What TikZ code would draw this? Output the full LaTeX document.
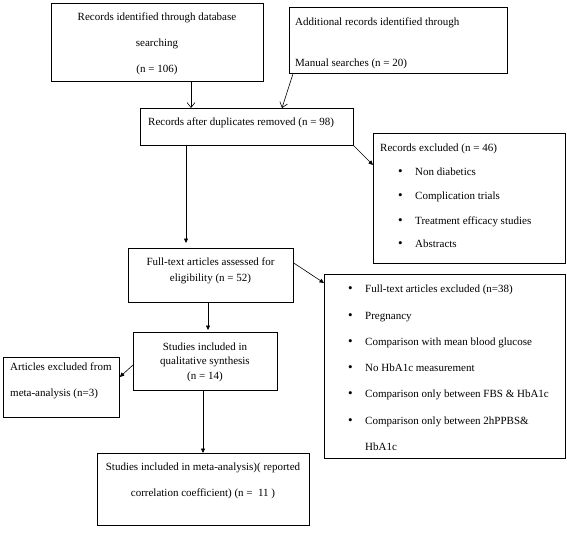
\documentclass[tikz,border=0pt]{standalone}
\usepackage{fontspec}
\setmainfont{Liberation Serif}
\usetikzlibrary{arrows.meta,calc}
\newcommand{\mybul}{\makebox[17pt][l]{\fontsize{13}{13}\selectfont •}}
\begin{document}
\begin{tikzpicture}[x=1pt,y=-1pt,
  box/.style={draw, line width=0.75pt, inner sep=0pt, anchor=north west},
  txt/.style={inner sep=0pt, font=\fontsize{11}{13}\selectfont, yshift=-1pt},
  bul/.style={txt, anchor=mid west},
  openarr/.style={draw, line width=0.6pt, -{Straight Barb[length=5pt,width=8pt]}},
  fillarr/.style={draw, line width=0.6pt, -{Triangle[length=4.5pt,width=4pt]}}]
\useasboundingbox (0,0) rectangle (567,535);
% boxes
\node[box, minimum width=212pt, minimum height=78pt] (b1) at (51,3) {};
\node[box, minimum width=218pt, minimum height=66pt] (b2) at (289,7) {};
\node[box, minimum width=213pt, minimum height=37pt] (b3) at (140,108) {};
\node[box, minimum width=192pt, minimum height=130pt] (b4) at (373,133) {};
\node[box, minimum width=165pt, minimum height=54pt] (b5) at (128,248) {};
\node[box, minimum width=241pt, minimum height=184pt] (b6) at (324,274) {};
\node[box, minimum width=144pt, minimum height=58pt] (b7) at (133,332) {};
\node[box, minimum width=116pt, minimum height=60pt] (b8) at (3,357) {};
\node[box, minimum width=212pt, minimum height=72pt] (b9) at (97,453) {};
% helper coordinates
\coordinate (x191) at (191,0);
\coordinate (x293) at (293,0);
\coordinate (x282) at (282,0);
\coordinate (x186) at (186,0);
\coordinate (x208) at (208,0);
\coordinate (x203) at (203,0);
\coordinate (y165) at (0,165);
\coordinate (y263) at (0,263);
\coordinate (y283) at (0,283);
\coordinate (y365) at (0,365);
\coordinate (y377) at (0,377);
% connectors
\draw[openarr] (b1.south -| x191) -- (b3.north -| x191);
\draw[openarr] (b2.south -| x293) -- (b3.north -| x282);
\draw[fillarr] (b3.south east) -- (b4.west |- y165);
\draw[fillarr] (b3.south -| x186) -- ($(b5.north -| x186)+(0,-5)$);
\draw[fillarr] (b5.east |- y263) -- (b6.west |- y283);
\draw[fillarr] (b5.south -| x208) -- ($(b7.north -| x208)+(0,-2)$);
\draw[fillarr] (b7.west |- y365) -- (b8.east |- y377);
\draw[fillarr] (b7.south -| x203) -- (b9.north -| x203);
% texts
\node[txt, anchor=mid] (t1a) at (157,17) {Records identified through database};
\node[txt, anchor=mid] (t1b) at (157,43) {searching};
\node[txt, anchor=mid] (t1c) at (157,69) {(n = 106)};
\node[txt, anchor=mid west] (t2a) at (295,22) {Additional records identified through};
\node[txt, anchor=mid west] (t2b) at (295,63) {Manual searches (n = 20)};
\node[txt, anchor=mid west] (t3) at (148,122) {Records after duplicates removed (n = 98)};
\node[txt, anchor=mid west] (t4) at (380,148) {Records excluded (n = 46)};
\node[bul] (t4a) at (398,172) {\mybul Non diabetics};
\node[bul] (t4b) at (398,196) {\mybul Complication trials};
\node[bul] (t4c) at (398,221) {\mybul Treatment efficacy studies};
\node[bul] (t4d) at (398,244) {\mybul Abstracts};
\node[txt, anchor=mid] (t5a) at (210.5,262) {Full-text articles assessed for};
\node[txt, anchor=mid] (t5b) at (210.5,278) {eligibility (n = 52)};
\node[bul] (t6a) at (348,289) {\mybul Full-text articles excluded (n=38)};
\node[bul] (t6b) at (348,316) {\mybul Pregnancy};
\node[bul] (t6c) at (348,342) {\mybul Comparison with mean blood glucose};
\node[bul] (t6d) at (348,368) {\mybul No HbA1c measurement};
\node[bul] (t6e) at (348,394) {\mybul Comparison only between FBS \& HbA1c};
\node[bul] (t6f) at (348,421) {\mybul Comparison only between 2hPPBS\&};
\node[bul] (t6g) at (365,447) {HbA1c};
\node[txt, anchor=mid] (t7a) at (205,347) {Studies included in};
\node[txt, anchor=mid] (t7b) at (205,361) {qualitative synthesis};
\node[txt, anchor=mid] (t7c) at (205,376) {(n = 14)};
\node[txt, anchor=mid west] (t8a) at (10,367) {Articles excluded from};
\node[txt, anchor=mid west] (t8b) at (10,393) {meta-analysis (n=3)};
\node[txt, anchor=mid] (t9a) at (203,467) {Studies included in meta-analysis)( reported};
\node[txt, anchor=mid] (t9b) at (203,493) {correlation coefficient) (n =\ \ 11 )};
\end{tikzpicture}
\end{document}
